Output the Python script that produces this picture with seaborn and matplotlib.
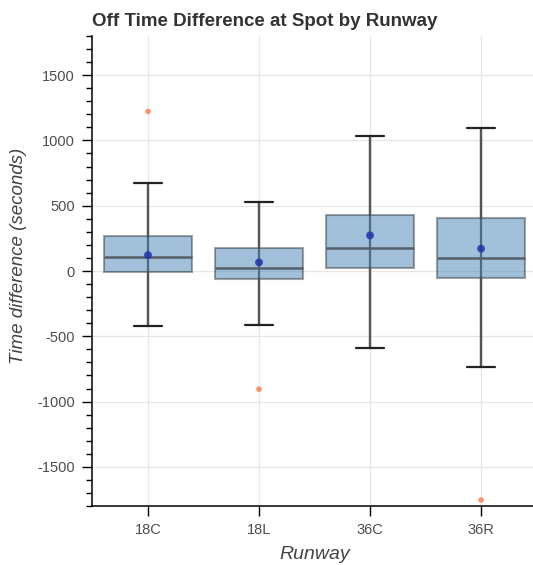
"""Off time difference at spot, box plot per runway."""

import matplotlib

matplotlib.use("Agg")
import matplotlib.pyplot as plt
import numpy as np
import seaborn as sns
from matplotlib.ticker import MultipleLocator

# summary statistics (seconds)
runways = ["18C", "18L", "36C", "36R"]
whisker_low = [-425, -415, -586, -737]
q1 = [-10, -61, 23, -51]
median = [105, 21, 179, 97]
q3 = [265, 176, 426, 408]
whisker_high = [676, 531, 1036, 1092]
means = [122, 66, 273, 171]

outlier_runway = ["18C", "18L", "36R"]
outlier_value = [1222, -905, -1754]

sns.set_style("white")
plt.rcParams["font.family"] = ["Liberation Sans", "DejaVu Sans"]
plt.rcParams["axes.unicode_minus"] = False

fig = plt.figure(figsize=(5.33, 5.65), dpi=100)
ax = fig.add_axes([0.1735, 0.1044, 0.8332, 0.8319])

pos = np.arange(len(runways))
stats = [
    {"whislo": lo, "q1": a, "med": m, "q3": b, "whishi": hi, "fliers": []}
    for lo, a, m, b, hi in zip(whisker_low, q1, median, q3, whisker_high)
]

# full whisker line drawn below the translucent box
ax.vlines(pos, whisker_low, whisker_high, color="#555555", lw=1.6, zorder=2)
ax.bxp(
    stats,
    positions=pos,
    widths=0.8,
    capwidths=0.25,
    showfliers=False,
    patch_artist=True,
    boxprops=dict(facecolor=(70 / 255, 130 / 255, 180 / 255, 0.5),
                  edgecolor=(0, 0, 0, 0.35), lw=1.5),
    medianprops=dict(color="#56606b", lw=1.8),
    whiskerprops=dict(color="#555555", lw=1.6),
    capprops=dict(color="#222222", lw=1.6),
    zorder=3,
)

sns.scatterplot(x=pos, y=means, color="#2233aa", alpha=0.85, s=32,
                edgecolor="none", zorder=4, ax=ax)
sns.scatterplot(x=[runways.index(r) for r in outlier_runway], y=outlier_value,
                color="#ff7f50", alpha=0.85, s=16, edgecolor="none",
                zorder=4, ax=ax)

ax.set_xlim(-0.5, len(runways) - 0.5)
ax.set_ylim(-1800, 1800)
ax.set_xticks(pos)
ax.set_xticklabels(runways)
ax.yaxis.set_major_locator(MultipleLocator(500))
ax.yaxis.set_minor_locator(MultipleLocator(100))
ax.grid(True, which="major", color="#e6e6e6", lw=0.9, zorder=0)
ax.set_axisbelow(True)

for side in ["top", "right"]:
    ax.spines[side].set_visible(False)
for side in ["left", "bottom"]:
    ax.spines[side].set_color("black")
    ax.spines[side].set_linewidth(1.1)

ax.tick_params(axis="both", which="major", direction="out", length=7,
               width=1, color="black", labelsize=10.5, labelcolor="#4d4d4d",
               pad=5.5, left=True, bottom=True)
ax.tick_params(axis="y", which="minor", direction="out", length=4,
               width=1, color="black", left=True)

ax.set_xlabel("Runway", fontsize=14, style="italic", color="#444444",
              labelpad=6)
ax.set_ylabel("Time difference (seconds)", fontsize=13.5, style="italic",
              color="#444444")
ax.yaxis.set_label_coords(-0.147, 0.532)
ax.set_title("Off Time Difference at Spot by Runway", loc="left",
             fontsize=13.5, fontweight="bold", color="#333333", pad=7.5)

fig.savefig("out.png", dpi=100)
